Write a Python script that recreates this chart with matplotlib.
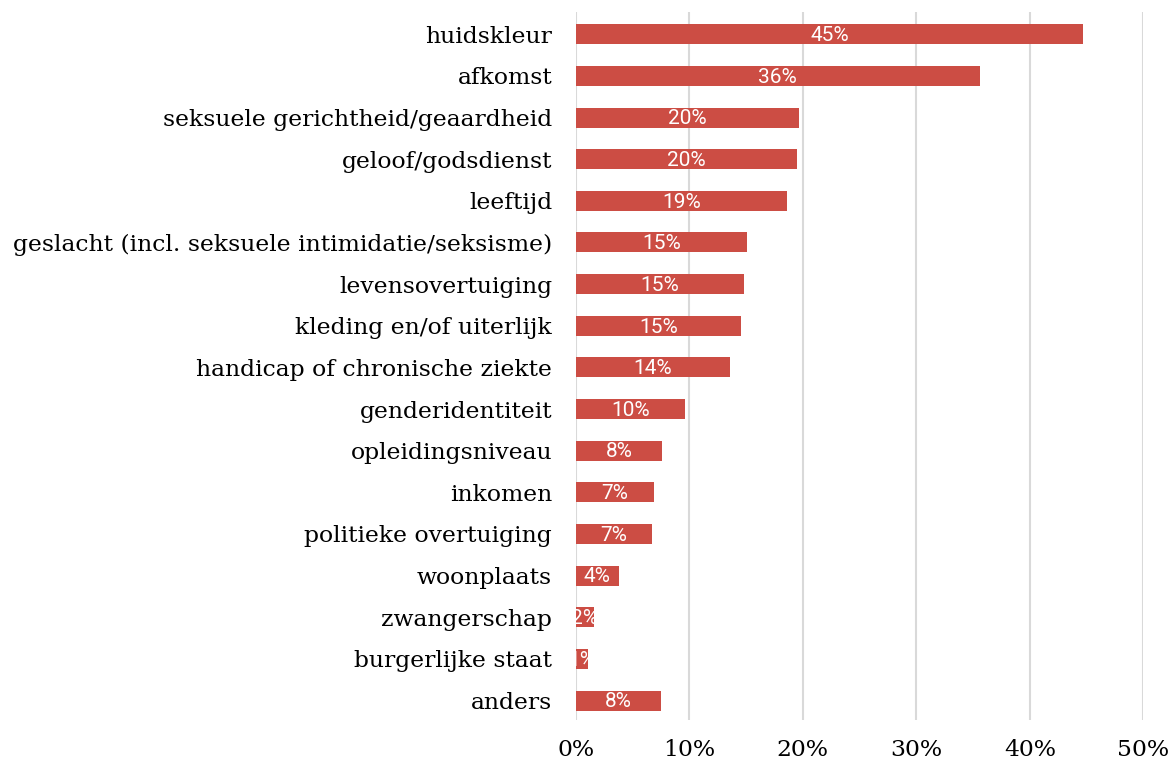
import numpy as np
import matplotlib.pyplot as plt

categories = [
    "huidskleur", "afkomst", "seksuele gerichtheid/geaardheid", "geloof/godsdienst",
    "leeftijd", "geslacht (incl. seksuele intimidatie/seksisme)", "levensovertuiging",
    "kleding en/of uiterlijk", "handicap of chronische ziekte", "genderidentiteit",
    "opleidingsniveau", "inkomen", "politieke overtuiging", "woonplaats",
    "zwangerschap", "burgerlijke staat", "anders",
]
values = [44.7, 35.6, 19.7, 19.5, 18.6, 15.1, 14.8, 14.6, 13.6, 9.6, 7.6, 6.9, 6.7, 3.8, 1.6, 1.1, 7.5]
xticks = [0, 10, 20, 30, 40, 50]

bar_color = "#cc4d44"

fig = plt.figure(figsize=(11.75, 7.64), dpi=100)
ax = fig.add_axes([0.490, 0.058, 0.483, 0.926])

y = np.arange(len(categories))
bars = ax.barh(y, values, height=0.48, color=bar_color, zorder=2)

for b, v in zip(bars, values):
    t = ax.text(v / 2, b.get_y() + b.get_height() / 2 + 0.03, f"{v:.0f}%",
                ha="center", va="center", color="white", fontsize=15,
                family="Roboto", zorder=3)
    t.set_clip_path(b)

ax.set_xlim(0, 50)
ax.set_ylim(len(categories) - 0.54, -0.53)
ax.set_yticks(y)
ax.set_yticklabels(categories, family="DejaVu Serif", fontsize=16.9)
ax.set_xticks(xticks)
ax.set_xticklabels([f"{t}%" for t in xticks], family="DejaVu Serif", fontsize=16.9)
ax.tick_params(axis="both", length=0)
ax.tick_params(axis="y", pad=17)
ax.tick_params(axis="x", pad=14)
ax.grid(axis="x", color="#d9d9d9", linewidth=1.5, zorder=0)
ax.set_axisbelow(True)
for s in ax.spines.values():
    s.set_visible(False)

fig.savefig("out.png", dpi=100)
